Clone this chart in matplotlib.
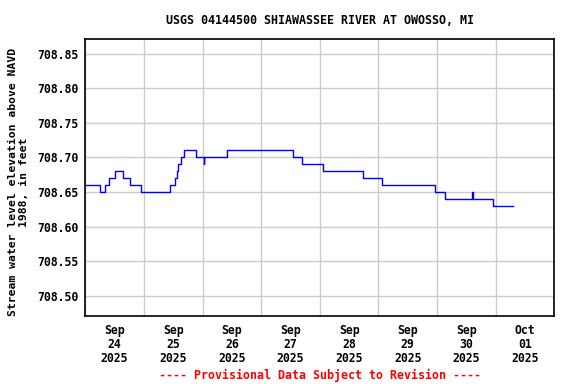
import pandas as pd
import matplotlib
matplotlib.use("Agg")
import matplotlib.pyplot as plt
import matplotlib.dates as mdates

# Gage height steps (value holds until the next time)
times = [
    "2025-09-24 00:00", "2025-09-24 06:00", "2025-09-24 08:15", "2025-09-24 09:45",
    "2025-09-24 12:00", "2025-09-24 15:15", "2025-09-24 18:15", "2025-09-24 22:45",
    "2025-09-25 10:45", "2025-09-25 12:45", "2025-09-25 13:30", "2025-09-25 14:00",
    "2025-09-25 15:00", "2025-09-25 16:30", "2025-09-25 21:30", "2025-09-26 00:30",
    "2025-09-26 00:45", "2025-09-26 10:00", "2025-09-27 13:00", "2025-09-27 16:45",
    "2025-09-28 01:15", "2025-09-28 17:45", "2025-09-29 01:30", "2025-09-29 23:00",
    "2025-09-30 03:15", "2025-09-30 14:30", "2025-09-30 14:45", "2025-09-30 23:00",
    "2025-10-01 07:15",
]
levels = [
    708.66, 708.65, 708.66, 708.67,
    708.68, 708.67, 708.66, 708.65,
    708.66, 708.67, 708.68, 708.69,
    708.70, 708.71, 708.70, 708.69,
    708.70, 708.71, 708.70, 708.69,
    708.68, 708.67, 708.66, 708.65,
    708.64, 708.65, 708.64, 708.63,
    708.63,
]
yticks = [708.50, 708.55, 708.60, 708.65, 708.70, 708.75, 708.80, 708.85]

df = pd.DataFrame({"time": pd.to_datetime(times), "level": levels})

font = "DejaVu Sans Mono"
plt.rcParams["font.family"] = font
plt.rcParams["font.weight"] = "bold"

fig = plt.figure(figsize=(5.76, 3.84), dpi=100)
ax = fig.add_axes([85.3 / 576, 1 - 316 / 384, 469 / 576, (316 - 39.3) / 384])

ax.plot(df["time"], df["level"], drawstyle="steps-post", color="#0000ff", linewidth=1)

ax.set_xlim(pd.Timestamp("2025-09-24"), pd.Timestamp("2025-10-02"))
ax.set_ylim(708.4706, 708.8707)

# gridlines at midnight, labels at noon
ax.xaxis.set_major_locator(mdates.DayLocator())
ax.xaxis.set_major_formatter(plt.NullFormatter())
ax.xaxis.set_minor_locator(mdates.HourLocator(byhour=[12]))
ax.xaxis.set_minor_formatter(mdates.DateFormatter("%b\n%d\n%Y"))
ax.set_yticks(yticks)
ax.set_yticklabels([f"{v:.2f}" for v in yticks])

ax.tick_params(axis="both", which="both", length=0, labelsize=8.3)
ax.tick_params(axis="x", which="minor", pad=6)
ax.tick_params(axis="y", pad=5)
for lbl in ax.xaxis.get_minorticklabels():
    lbl.set_linespacing(1.1)

ax.grid(True, which="major", color="#cccccc", linewidth=1)
ax.set_axisbelow(True)
for sp in ax.spines.values():
    sp.set_linewidth(1.2)

cx = (85.3 + 469 / 2) / 576
fig.text(cx, 1 - 20 / 384, "USGS 04144500 SHIAWASSEE RIVER AT OWOSSO, MI",
         ha="center", va="center", fontsize=8.4)
fig.text(cx, 1 - 375 / 384, "---- Provisional Data Subject to Revision ----",
         ha="center", va="center", fontsize=8.4, color="red")
fig.text(18.5 / 576, 1 - 182 / 384,
         "Stream water level elevation above NAVD\n1988, in feet",
         rotation=90, ha="center", va="center", multialignment="center",
         fontsize=8.2, linespacing=1.1)

fig.savefig("out.png", dpi=100)
